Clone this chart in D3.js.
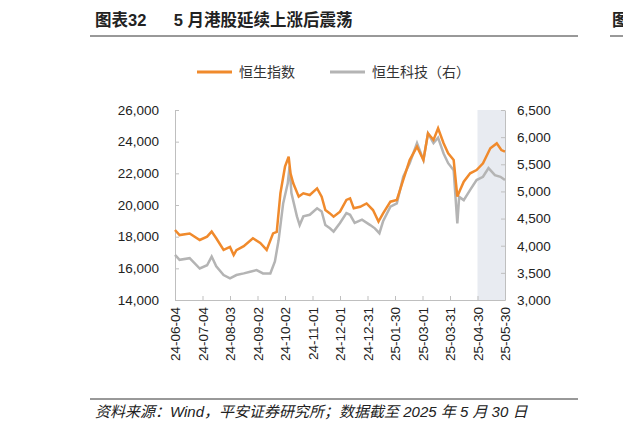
<!DOCTYPE html>
<html><head><meta charset="utf-8">
<script src="https://cdn.jsdelivr.net/npm/d3@7"></script>
<style>body{margin:0;background:#fff}svg{font-family:"Liberation Sans","Noto Sans CJK SC",sans-serif}</style>
</head><body><svg id="c" width="623" height="433"></svg>
<script>
// days since 2024-06-04
var hsiDays = [0,5,16,27,35,40,45,53,60,64,67,75,85,93,100,107,111,115,120,124,126,129,135,140,147,155,160,164,169,173,180,187,191,195,202,209,216,222,227,235,242,249,256,264,271,276,282,287,293,298,304,308,311,315,322,329,336,344,351,356,360];
var hsi = [18420,18100,18200,17790,18000,18320,17900,17160,17350,16840,17150,17400,17900,17600,17160,18210,18300,20740,22420,23050,22000,21370,20530,20740,20630,21050,20530,19680,19470,19260,19580,20320,20420,19790,19890,20100,19680,18950,19470,20210,20320,21580,22840,23680,22840,24530,24110,24840,23900,23260,22840,20530,20950,21470,22000,22210,22630,23580,23890,23470,23370];
var hstDays = [0,5,16,27,35,40,45,53,60,67,75,82,89,96,104,109,113,118,123,125,127,133,136,140,147,155,160,164,169,173,180,187,191,196,204,213,218,223,227,235,242,249,256,264,271,276,282,287,293,298,304,308,310,315,322,329,336,342,349,355,360];
var hst = [3830,3740,3770,3580,3640,3800,3620,3460,3400,3460,3490,3520,3550,3490,3490,3710,4100,4780,5150,5460,4970,4540,4380,4540,4570,4690,4630,4380,4320,4260,4420,4600,4570,4420,4480,4380,4320,4230,4450,4720,4780,5270,5520,5890,5580,6070,5890,5990,5700,5520,5390,4410,4900,4840,5030,5210,5270,5430,5300,5270,5210];
var xTicks = ["24-06-04","24-07-04","24-08-03","24-09-02","24-10-02","24-11-01","24-12-01","24-12-31","25-01-30","25-03-01","25-03-31","25-04-30","25-05-30"];
var leftTicks = [14000,16000,18000,20000,22000,24000,26000];
var rightTicks = [3000,3500,4000,4500,5000,5500,6000,6500];
var shadeFrom = "25-04-30";

var svg = d3.select("#c");
var parse = d3.timeParse("%y-%m-%d");
var t0 = parse(xTicks[0]);
var toDate = function (d) { return d3.timeDay.offset(t0, d); };

var x = d3.scaleTime().domain([t0, parse(xTicks[xTicks.length - 1])]).range([175, 505]);
var yl = d3.scaleLinear().domain([14000, 26000]).range([300, 110]);
var yr = d3.scaleLinear().domain([3000, 6500]).range([300, 110]);

// title
svg.append("text").attr("x", 95).attr("y", 26).attr("font-size", 16.5).attr("font-weight", "bold")
    .attr("fill", "#222").attr("xml:space", "preserve").text("图表32      5 月港股延续上涨后震荡");
svg.append("line").attr("x1", 90).attr("x2", 578).attr("y1", 36).attr("y2", 36).attr("stroke", "#333");
svg.append("line").attr("x1", 610).attr("x2", 623).attr("y1", 36).attr("y2", 36).attr("stroke", "#333");
svg.append("text").attr("x", 612).attr("y", 26).attr("font-size", 16.5).attr("font-weight", "bold").attr("fill", "#222").text("图");

// shade
svg.append("rect").attr("x", x(parse(shadeFrom))).attr("y", 110)
    .attr("width", 505 - x(parse(shadeFrom))).attr("height", 190).attr("fill", "#e8ebf1");

// legend
var legend = [["恒生指数", "#f08a2c", 197], ["恒生科技（右）", "#b4b4b4", 330]];
legend.forEach(function (l) {
    svg.append("line").attr("x1", l[2]).attr("x2", l[2] + 35).attr("y1", 72).attr("y2", 72)
        .attr("stroke", l[1]).attr("stroke-width", 3);
    svg.append("text").attr("x", l[2] + 42).attr("y", 77).attr("font-size", 14).attr("fill", "#333").text(l[0]);
});

// axes
var axisL = svg.append("g").attr("transform", "translate(175,0)")
    .call(d3.axisLeft(yl).tickValues(leftTicks).tickFormat(d3.format(",")).tickSizeInner(-4).tickSizeOuter(0).tickPadding(16));
var axisR = svg.append("g").attr("transform", "translate(505,0)")
    .call(d3.axisRight(yr).tickValues(rightTicks).tickFormat(d3.format(",")).tickSizeInner(-4).tickSizeOuter(0).tickPadding(12));
var axisB = svg.append("g").attr("transform", "translate(0,300)")
    .call(d3.axisBottom(x).tickValues(xTicks.map(parse)).tickFormat(d3.timeFormat("%y-%m-%d")).tickSizeInner(-4).tickSizeOuter(0));
axisB.selectAll("text").attr("transform", "rotate(-90)").attr("text-anchor", "end")
    .attr("x", -7).attr("y", 0).attr("dy", "0.35em");
[axisL, axisR, axisB].forEach(function (a) {
    a.selectAll("path,line").attr("stroke", "#bfbfbf");
    a.selectAll("text").attr("font-size", 13.5).attr("fill", "#222");
});

// lines
svg.append("path").datum(hst.map(function (v, i) { return [toDate(hstDays[i]), v]; }))
    .attr("fill", "none").attr("stroke", "#b4b4b4").attr("stroke-width", 2.5)
    .attr("d", d3.line().x(function (d) { return x(d[0]); }).y(function (d) { return yr(d[1]); }));
svg.append("path").datum(hsi.map(function (v, i) { return [toDate(hsiDays[i]), v]; }))
    .attr("fill", "none").attr("stroke", "#f08a2c").attr("stroke-width", 2.5)
    .attr("d", d3.line().x(function (d) { return x(d[0]); }).y(function (d) { return yl(d[1]); }));

// footer
svg.append("line").attr("x1", 90).attr("x2", 578).attr("y1", 399).attr("y2", 399).attr("stroke", "#333");
svg.append("text").attr("x", 95).attr("y", 417).attr("font-size", 15).attr("font-style", "italic")
    .attr("fill", "#222").text("资料来源：Wind，平安证券研究所；数据截至 2025 年 5 月 30 日");
</script></body></html>
